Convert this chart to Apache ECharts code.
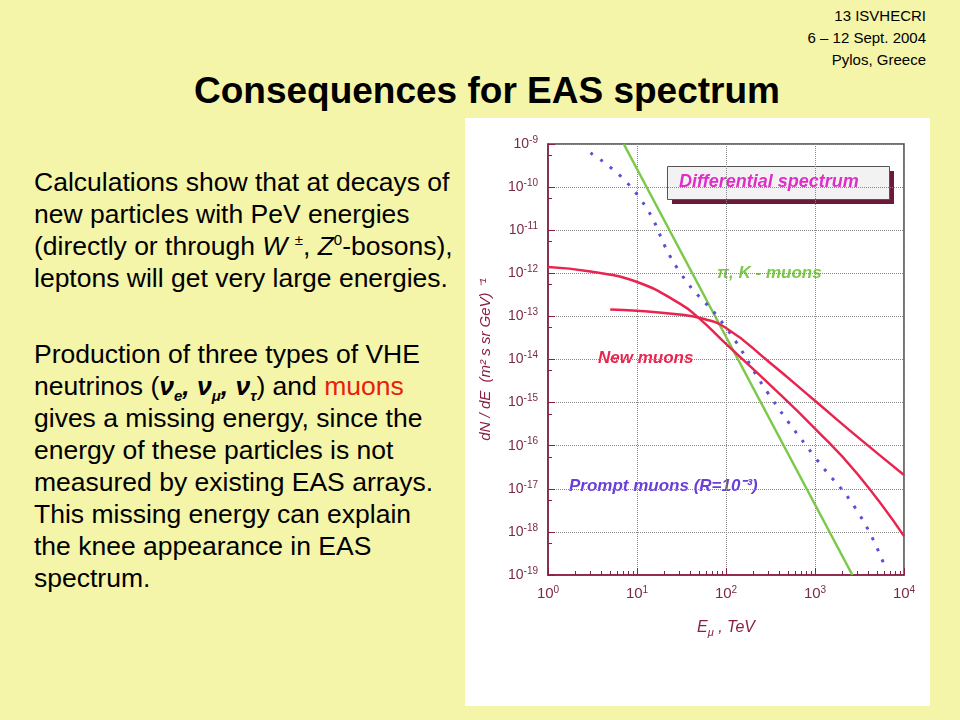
<!DOCTYPE html>
<html><head><meta charset="utf-8">
<script src="https://cdn.jsdelivr.net/npm/echarts@6/dist/echarts.min.js"></script>
<style>
body{margin:0;width:960px;height:720px;background:#f4f5a9;font-family:"Liberation Sans",Arial,sans-serif;position:relative;overflow:hidden}
#hdr{position:absolute;right:34px;top:5px;text-align:right;font-size:15px;line-height:22px;color:#000}
#title{position:absolute;left:0;width:974px;top:70px;text-align:center;font-weight:bold;font-size:37px}
.p{position:absolute;left:34px;font-size:26.5px;line-height:32px;color:#000;white-space:nowrap}
#chart{position:absolute;left:465px;top:118px;width:465px;height:588px;background:#fff}
</style></head><body>
<div id="hdr">13 ISVHECRI<br>6 – 12 Sept. 2004<br>Pylos, Greece</div>
<div id="title">Consequences for EAS spectrum</div>
<div class="p" style="top:166px">Calculations show that at decays of<br>new particles with PeV energies<br>(directly or through <i>W</i> <sup style="font-size:15px;line-height:0">±</sup>, <i>Z</i><sup style="font-size:15px;line-height:0">0</sup>-bosons),<br>leptons will get very large energies.</div>
<div class="p" style="top:338px">Production of three types of VHE<br>neutrinos (<b><i>ν<sub style="font-size:15px;line-height:0">e</sub>, ν<sub style="font-size:15px;line-height:0">μ</sub>, ν<sub style="font-size:15px;line-height:0">τ</sub></i></b>) and <span style="color:#e8200c">muons</span><br>gives a missing energy, since the<br>energy of these particles is not<br>measured by existing EAS arrays.<br>This missing energy can explain<br>the knee appearance in EAS<br>spectrum.</div>
<div id="chart"></div>
<script>
const piK_E=[7.1,2630];
const piK_F=[1e-9,1e-19];
const prompt_E=[3,10,30,100,300,1000,3000,6000];
const prompt_F=[6.2e-10,6.8e-11,1.1e-12,5.5e-14,1.6e-15,5.4e-17,3e-18,1.7e-19];
const new1_E=[1,3,10,30,50,100,300,1000,3000,10000];
const new1_F=[1.4e-12,1.1e-12,6.3e-13,2e-13,9e-14,2.3e-14,2.8e-15,2.5e-16,2.2e-17,8e-19];
const new2_E=[5,10,30,50,100,300,1000,3000,10000];
const new2_F=[1.45e-13,1.35e-13,1.1e-13,9.3e-14,5.4e-14,9e-15,1.1e-15,1.6e-16,2.1e-17];
const zip=(a,b)=>a.map((v,i)=>[v,b[i]]);
const fmt=v=>'10{s|'+Math.round(Math.log10(v))+'}';
const axc='#8a1f45', lab='#7a2a45';
const rich={s:{fontSize:10,verticalAlign:'top',padding:[0,0,8,0],color:lab}};
const c=echarts.init(document.getElementById('chart'));
c.setOption({
 animation:false,
 grid:{left:83,top:26,right:26,bottom:131,show:true,borderColor:axc,borderWidth:1.5},
 xAxis:{type:'log',min:1,max:1e4,logBase:10,interval:1,axisLine:{lineStyle:{color:axc,width:1.5}},
  axisTick:{inside:true,length:7,lineStyle:{color:axc}},minorTick:{show:true,splitNumber:9,length:4,lineStyle:{color:axc}},
  axisLabel:{formatter:fmt,color:lab,fontSize:15,margin:10,rich:rich},
  splitLine:{lineStyle:{type:'dotted',color:'#888'}},
  name:'E{s|μ} , TeV',nameLocation:'middle',nameGap:42,nameTextStyle:{color:axc,fontStyle:'italic',fontSize:16,rich:{s:{fontSize:11,padding:[10,0,0,0],color:axc,fontStyle:'italic'}}}},
 yAxis:{type:'log',min:1e-19,max:1e-9,interval:1,axisLine:{lineStyle:{color:axc,width:1.5}},
  axisTick:{inside:true,length:7,lineStyle:{color:axc}},minorTick:{show:true,splitNumber:2,length:4,lineStyle:{color:axc}},
  axisLabel:{formatter:fmt,color:lab,fontSize:14,margin:10,rich:rich},
  splitLine:{lineStyle:{type:'dotted',color:'#888'}},
  name:'dN / dE  (m² s sr GeV) ⁻¹',nameLocation:'middle',nameGap:55,nameTextStyle:{color:axc,fontStyle:'italic',fontSize:15}},
 series:[
  {type:'line',data:zip(piK_E,piK_F),symbol:'none',lineStyle:{color:'#7cc94a',width:2.5}},
  {type:'line',data:zip(prompt_E,prompt_F),symbol:'none',smooth:0.5,lineStyle:{color:'#5a4fd8',width:3,type:[3,9]}},
  {type:'line',data:zip(new1_E,new1_F),symbol:'none',smooth:0.5,lineStyle:{color:'#e8244f',width:2.5}},
  {type:'line',data:zip(new2_E,new2_F),symbol:'none',smooth:0.5,lineStyle:{color:'#e8244f',width:2.5}}
 ],
 graphic:[
  {type:'rect',left:207,top:53,shape:{width:222,height:33},style:{fill:'#6b1a3a'}},
  {type:'rect',left:202,top:48,shape:{width:222,height:33},style:{fill:'#f2f2f2',stroke:'#555',lineWidth:1}},
  {type:'text',left:214,top:55,style:{text:'Differential spectrum',fill:'#e02cc8',font:'italic bold 18px "Liberation Sans",Arial'}},
  {type:'text',left:252,top:147,style:{text:'π, K - muons',fill:'#7cc94a',font:'italic bold 17px "Liberation Sans",Arial'}},
  {type:'text',left:133,top:232,style:{text:'New muons',fill:'#e8244f',font:'italic bold 17px "Liberation Sans",Arial'}},
  {type:'text',left:104,top:360,style:{text:'Prompt muons (R=10⁻³)',fill:'#6a3fd8',font:'italic bold 17px "Liberation Sans",Arial'}}
 ]
});
</script></body></html>
